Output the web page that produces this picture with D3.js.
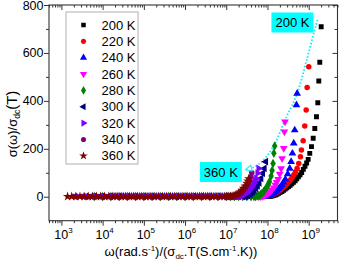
<!DOCTYPE html>
<html><head><meta charset="utf-8">
<script src="https://cdn.jsdelivr.net/npm/d3@7"></script>
<style>body{margin:0;background:#fff}svg{display:block;font-family:"Liberation Sans",Arial,sans-serif}</style>
</head><body><svg id="c" width="340" height="263"></svg>
<script>
// ---- data: [log10(x), y] ----
const temps = ["200 K","220 K","240 K","260 K","280 K","300 K","320 K","340 K","360 K"];
const s200 = [[4.9,1],[5.1,1],[5.3,1],[5.5,1],[5.7,1],[5.9,1],[6.1,1],[6.3,1],[6.5,1],[6.7,1],[6.9,1],[7.0,1],[7.1,1],[7.2,1],[7.3,1],[7.4,1],[7.5,1],[7.6,1],[7.7,1],[7.8,1],[7.9,1],[8.0,1],
 [8.03,1],[8.07,2],[8.11,3],[8.15,5],[8.19,7],[8.23,10],[8.27,14],[8.31,18],[8.35,22],[8.39,27],[8.43,32],[8.47,37],[8.51,42],[8.55,48],[8.59,54],[8.63,60],[8.67,67],[8.71,75],[8.75,83],[8.79,91],[8.83,101],[8.87,114],[8.91,127],[8.95,141],[8.987,156],[9.026,181],[9.068,209],[9.109,244],[9.148,285],[9.189,334],[9.221,392],[9.245,483],[9.269,561],[9.303,709]];
const s220 = [[4.6,1],[4.8,1],[5.0,1],[5.2,1],[5.4,1],[5.6,1],[5.8,1],[6.0,1],[6.2,1],[6.4,1],[6.6,1],[6.8,1],[7.0,1],[7.1,1],[7.2,1],[7.3,1],[7.4,1],[7.5,1],[7.6,1],[7.7,1],[7.8,1],
 [7.88,1],[7.92,2],[7.96,2],[8.00,3],[8.04,4],[8.08,6],[8.12,8],[8.16,11],[8.20,15],[8.24,19],[8.28,24],[8.32,29],[8.36,35],[8.40,41],[8.44,47],[8.48,54],[8.52,62],[8.56,71],[8.60,81],[8.64,92],[8.68,104],[8.72,118],[8.759,139],[8.800,167],[8.824,195],[8.866,234],[8.905,295],[8.939,362],[8.963,456],[9.002,542]];
const s240 = [[4.3,1],[4.5,1],[4.7,1],[4.9,1],[5.1,1],[5.3,1],[5.5,1],[5.7,1],[5.9,1],[6.1,1],[6.3,1],[6.5,1],[6.7,1],[6.9,1],[7.0,1],[7.1,1],[7.2,1],[7.3,1],[7.4,1],[7.5,1],[7.6,1],[7.7,1],[7.8,1],
 [7.87,1],[7.91,1],[7.95,2],[7.99,3],[8.03,5],[8.07,7],[8.11,11],[8.15,15],[8.19,20],[8.23,26],[8.27,33],[8.31,41],[8.35,49],[8.39,60],[8.435,73],[8.491,95],[8.540,118],[8.574,146],[8.605,181],[8.637,223],[8.661,278],[8.703,383],[8.720,431]];
const s260 = [[4.0,1],[4.2,1],[4.4,1],[4.6,1],[4.8,1],[5.0,1],[5.2,1],[5.4,1],[5.6,1],[5.8,1],[6.0,1],[6.2,1],[6.4,1],[6.6,1],[6.8,1],[7.0,1],[7.1,1],[7.2,1],[7.3,1],[7.4,1],[7.5,1],[7.6,1],[7.7,1],
 [7.79,1],[7.83,1],[7.87,2],[7.91,4],[7.95,7],[7.99,11],[8.03,16],[8.07,22],[8.11,29],[8.15,38],[8.19,49],[8.22,60],[8.258,73],[8.297,95],[8.330,118],[8.355,160],[8.394,202],[8.410,271],[8.425,313]];
const s280 = [[3.8,1],[4.0,1],[4.2,1],[4.4,1],[4.6,1],[4.8,1],[5.0,1],[5.2,1],[5.4,1],[5.6,1],[5.8,1],[6.0,1],[6.2,1],[6.4,1],[6.6,1],[6.8,1],[7.0,1],[7.1,1],[7.2,1],[7.3,1],[7.4,1],[7.5,1],[7.6,1],
 [7.67,1],[7.71,1],[7.75,3],[7.79,5],[7.83,9],[7.87,15],[7.91,22],[7.95,31],[7.99,42],[8.02,52],[8.047,63],[8.088,86],[8.112,109],[8.135,139],[8.155,181],[8.175,212]];
const s300 = [[3.6,1],[3.8,1],[4.0,1],[4.2,1],[4.4,1],[4.6,1],[4.8,1],[5.0,1],[5.2,1],[5.4,1],[5.6,1],[5.8,1],[6.0,1],[6.2,1],[6.4,1],[6.6,1],[6.8,1],[7.0,1],[7.1,1],[7.2,1],[7.3,1],[7.4,1],
 [7.44,1],[7.48,3],[7.52,6],[7.56,9],[7.60,14],[7.64,20],[7.68,27],[7.72,35],[7.76,45],[7.80,58],[7.845,77],[7.885,98],[7.925,118],[7.960,146]];
const s320 = [[3.4,1],[3.6,1],[3.8,1],[4.0,1],[4.2,1],[4.4,1],[4.6,1],[4.8,1],[5.0,1],[5.2,1],[5.4,1],[5.6,1],[5.8,1],[6.0,1],[6.2,1],[6.4,1],[6.6,1],[6.8,1],[7.0,1],[7.1,1],[7.2,1],
 [7.265,1],[7.305,1],[7.345,2],[7.385,4],[7.425,7],[7.465,12],[7.505,18],[7.545,26],[7.585,35],[7.625,45],[7.665,56],[7.70,66],[7.730,77],[7.762,98],[7.786,118]];
const s340 = [[3.3,1],[3.5,1],[3.7,1],[3.9,1],[4.1,1],[4.3,1],[4.5,1],[4.7,1],[4.9,1],[5.1,1],[5.3,1],[5.5,1],[5.7,1],[5.9,1],[6.1,1],[6.3,1],[6.5,1],[6.7,1],[6.9,1],[7.0,1],[7.1,1],
 [7.13,1],[7.17,1],[7.21,2],[7.25,4],[7.29,7],[7.33,11],[7.37,17],[7.41,24],[7.45,33],[7.49,43],[7.53,55],[7.57,68],[7.60,83],[7.62,100]];
const s360 = [[3.15,1],[3.25,1],[3.35,1],[3.45,1],[3.55,1],[3.65,1],[3.75,1],[3.85,1],[3.95,1],[4.05,1],[4.15,1],[4.25,1],[4.35,1],[4.45,1],[4.55,1],[4.65,1],[4.75,1],[4.85,1],[4.95,1],[5.05,1],[5.15,1],[5.25,1],[5.35,1],[5.45,1],[5.55,1],[5.65,1],[5.75,1],[5.85,1],[5.95,1],[6.05,1],[6.15,1],[6.25,1],[6.35,1],[6.45,1],[6.55,1],[6.65,1],[6.75,1],[6.85,1],[6.95,1],
 [7.02,1],[7.06,1],[7.10,1],[7.14,2],[7.18,3],[7.22,6],[7.26,9],[7.30,14],[7.34,20],[7.38,27],[7.42,35],[7.46,45],[7.50,56],[7.525,65],[7.545,75]];
const seriesData = [s200,s220,s240,s260,s280,s300,s320,s340,s360];
const yMajor = [0,200,400,600,800];
const yMinor = [100,300,500,700];
const xExps = [3,4,5,6,7,8,9];
const envelope = [[9.215,738],[9.18,718],[8.95,570],[8.72,431],[8.42,318],[8.17,218],[7.90,153],[7.63,120],[7.47,113]];
const annText = ["200 K","360 K"];
const annLogX = [8.606,6.868];
const annY = [727,103];

// ---- styles ----
const colors = ["#000000","#ff0000","#0000ff","#ff00ff","#008000","#000080","#8000ff","#800080","#800000"];
const shapes = [
  {t:d3.symbolSquare,s:24,r:0},{t:d3.symbolCircle,s:24,r:0},{t:d3.symbolTriangle,s:26,r:0},
  {t:d3.symbolTriangle,s:26,r:180},{t:d3.symbolDiamond,s:26,r:0},{t:d3.symbolTriangle,s:26,r:-90},
  {t:d3.symbolTriangle,s:26,r:90},{t:d3.symbolCircle,s:24,r:0},{t:d3.symbolStar,s:28,r:0}];

const svg = d3.select("#c");
const L=49,R=337.5,T=5,B=220.7;
const x = d3.scaleLog().domain([500,5e9]).range([L,R]);
const y = d3.scaleLinear().domain([-100,800]).range([B,T]);

// minor x ticks
const xMinor=[];
for(let e=2;e<=9;e++) for(let k=2;k<=9;k++){const v=k*Math.pow(10,e); if(v>=500&&v<=5e9) xMinor.push(v);}
const xMajor = xExps.map(e=>Math.pow(10,e));

function styleAxis(g){g.select(".domain").remove(); g.selectAll("line").attr("stroke","#333"); g.selectAll("text").remove();}

// bottom
svg.append("g").attr("transform",`translate(0,${B})`).call(d3.axisBottom(x).tickValues(xMajor).tickSize(5).tickSizeOuter(0)).call(styleAxis);
svg.append("g").attr("transform",`translate(0,${B})`).call(d3.axisBottom(x).tickValues(xMinor).tickSize(2.5).tickSizeOuter(0)).call(styleAxis);
// top (inward)
svg.append("g").attr("transform",`translate(0,${T})`).call(d3.axisTop(x).tickValues(xMajor).tickSize(-5).tickSizeOuter(0)).call(styleAxis);
svg.append("g").attr("transform",`translate(0,${T})`).call(d3.axisTop(x).tickValues(xMinor).tickSize(-2.5).tickSizeOuter(0)).call(styleAxis);
// left
svg.append("g").attr("transform",`translate(${L},0)`).call(d3.axisLeft(y).tickValues(yMajor).tickSize(5).tickSizeOuter(0)).call(styleAxis);
svg.append("g").attr("transform",`translate(${L},0)`).call(d3.axisLeft(y).tickValues(yMinor).tickSize(3).tickSizeOuter(0)).call(styleAxis);
// right (inward)
svg.append("g").attr("transform",`translate(${R},0)`).call(d3.axisRight(y).tickValues(yMajor).tickSize(-5).tickSizeOuter(0)).call(styleAxis);
svg.append("g").attr("transform",`translate(${R},0)`).call(d3.axisRight(y).tickValues(yMinor).tickSize(-3).tickSizeOuter(0)).call(styleAxis);

// frame
svg.append("rect").attr("x",L).attr("y",T).attr("width",R-L).attr("height",B-T).attr("fill","none").attr("stroke","#333").attr("stroke-width",1.1);

// y labels
svg.append("g").selectAll("text").data(yMajor).join("text")
  .attr("x",L-5.5).attr("y",d=>y(d)+4.5).attr("text-anchor","end").attr("font-size",12.5).text(d=>d);
// x labels
const xl = svg.append("g").selectAll("text").data(xExps).join("text")
  .attr("x",d=>x(Math.pow(10,d))+2).attr("y",239).attr("text-anchor","middle").attr("font-size",12.5);
xl.append("tspan").text("10");
xl.append("tspan").attr("font-size",8).attr("dy",-6).text(d=>d);

// data
const clip = svg.append("defs").append("clipPath").attr("id","pc").append("rect").attr("x",L).attr("y",T).attr("width",R-L).attr("height",B-T);
const plot = svg.append("g").attr("clip-path","url(#pc)");

// envelope dotted line
const line = d3.line().curve(d3.curveCatmullRom).x(d=>x(Math.pow(10,d[0]))).y(d=>y(d[1]));
plot.append("path").datum(envelope).attr("d",line).attr("fill","none").attr("stroke","#1ae8f5").attr("stroke-width",1.8).attr("stroke-dasharray","1.6,1.8");

seriesData.forEach((s,i)=>{
  const sh=shapes[i];
  const sym=d3.symbol().type(sh.t).size(sh.s);
  plot.append("g").selectAll("path").data(s).join("path")
    .attr("d",sym).attr("fill",colors[i])
    .attr("transform",d=>`translate(${x(Math.pow(10,d[0]))},${y(d[1])}) rotate(${sh.r})`);
});

// arrowhead at end of envelope
{
  const n=envelope.length, a=envelope[n-1], b=envelope[n-2];
  const ax=x(Math.pow(10,a[0])), ay=y(a[1]), bx=x(Math.pow(10,b[0])), by=y(b[1]);
  const ang=Math.atan2(ay-by,ax-bx)*180/Math.PI;
  svg.append("path").attr("d","M0,0 L-6,-3 L-6,3 Z").attr("fill","#fff").attr("stroke","#1ae8f5").attr("stroke-width",1)
    .attr("transform",`translate(${ax},${ay}) rotate(${ang})`);
}

// annotation boxes
annText.forEach((t,i)=>{
  const cx=x(Math.pow(10,annLogX[i])), cy=y(annY[i]);
  const w=42,h=20;
  svg.append("rect").attr("x",cx-w/2).attr("y",cy-h/2).attr("width",w).attr("height",h).attr("fill","#00ffff");
  svg.append("text").attr("x",cx).attr("y",cy+4.7).attr("text-anchor","middle").attr("font-size",13).text(t);
});

// legend
const lg = svg.append("g");
lg.append("rect").attr("x",66).attr("y",12).attr("width",72).attr("height",152).attr("fill","#fff").attr("stroke","#b0b0b0").attr("stroke-width",1);
temps.forEach((t,i)=>{
  const cy=25+i*16.35;
  const sh=shapes[i];
  lg.append("path").attr("d",d3.symbol().type(sh.t).size(sh.s*0.85)()).attr("fill",colors[i])
    .attr("transform",`translate(83.5,${cy}) rotate(${sh.r})`);
  lg.append("text").attr("x",101.5).attr("y",cy+4.6).attr("font-size",13).text(t);
});

// axis titles
const xt = svg.append("text").attr("x",181).attr("y",256).attr("text-anchor","middle").attr("font-size",13);
xt.append("tspan").text("ω(rad.s");
xt.append("tspan").attr("font-size",8).attr("dy",-5).text("-1");
xt.append("tspan").attr("dy",5).text(")/(σ");
xt.append("tspan").attr("font-size",8).attr("dy",3).text("dc");
xt.append("tspan").attr("dy",-3).text(".T(S.cm");
xt.append("tspan").attr("font-size",8).attr("dy",-5).text("-1");
xt.append("tspan").attr("dy",5).text(".K))");

const yt = svg.append("text").attr("transform","translate(17,124) rotate(-90)").attr("text-anchor","middle").attr("font-size",13);
yt.append("tspan").text("σ(ω)/σ");
yt.append("tspan").attr("font-size",8.5).attr("dy",3).text("dc");
yt.append("tspan").attr("font-size",15).attr("dy",-3).text("(T)");
</script></body></html>
